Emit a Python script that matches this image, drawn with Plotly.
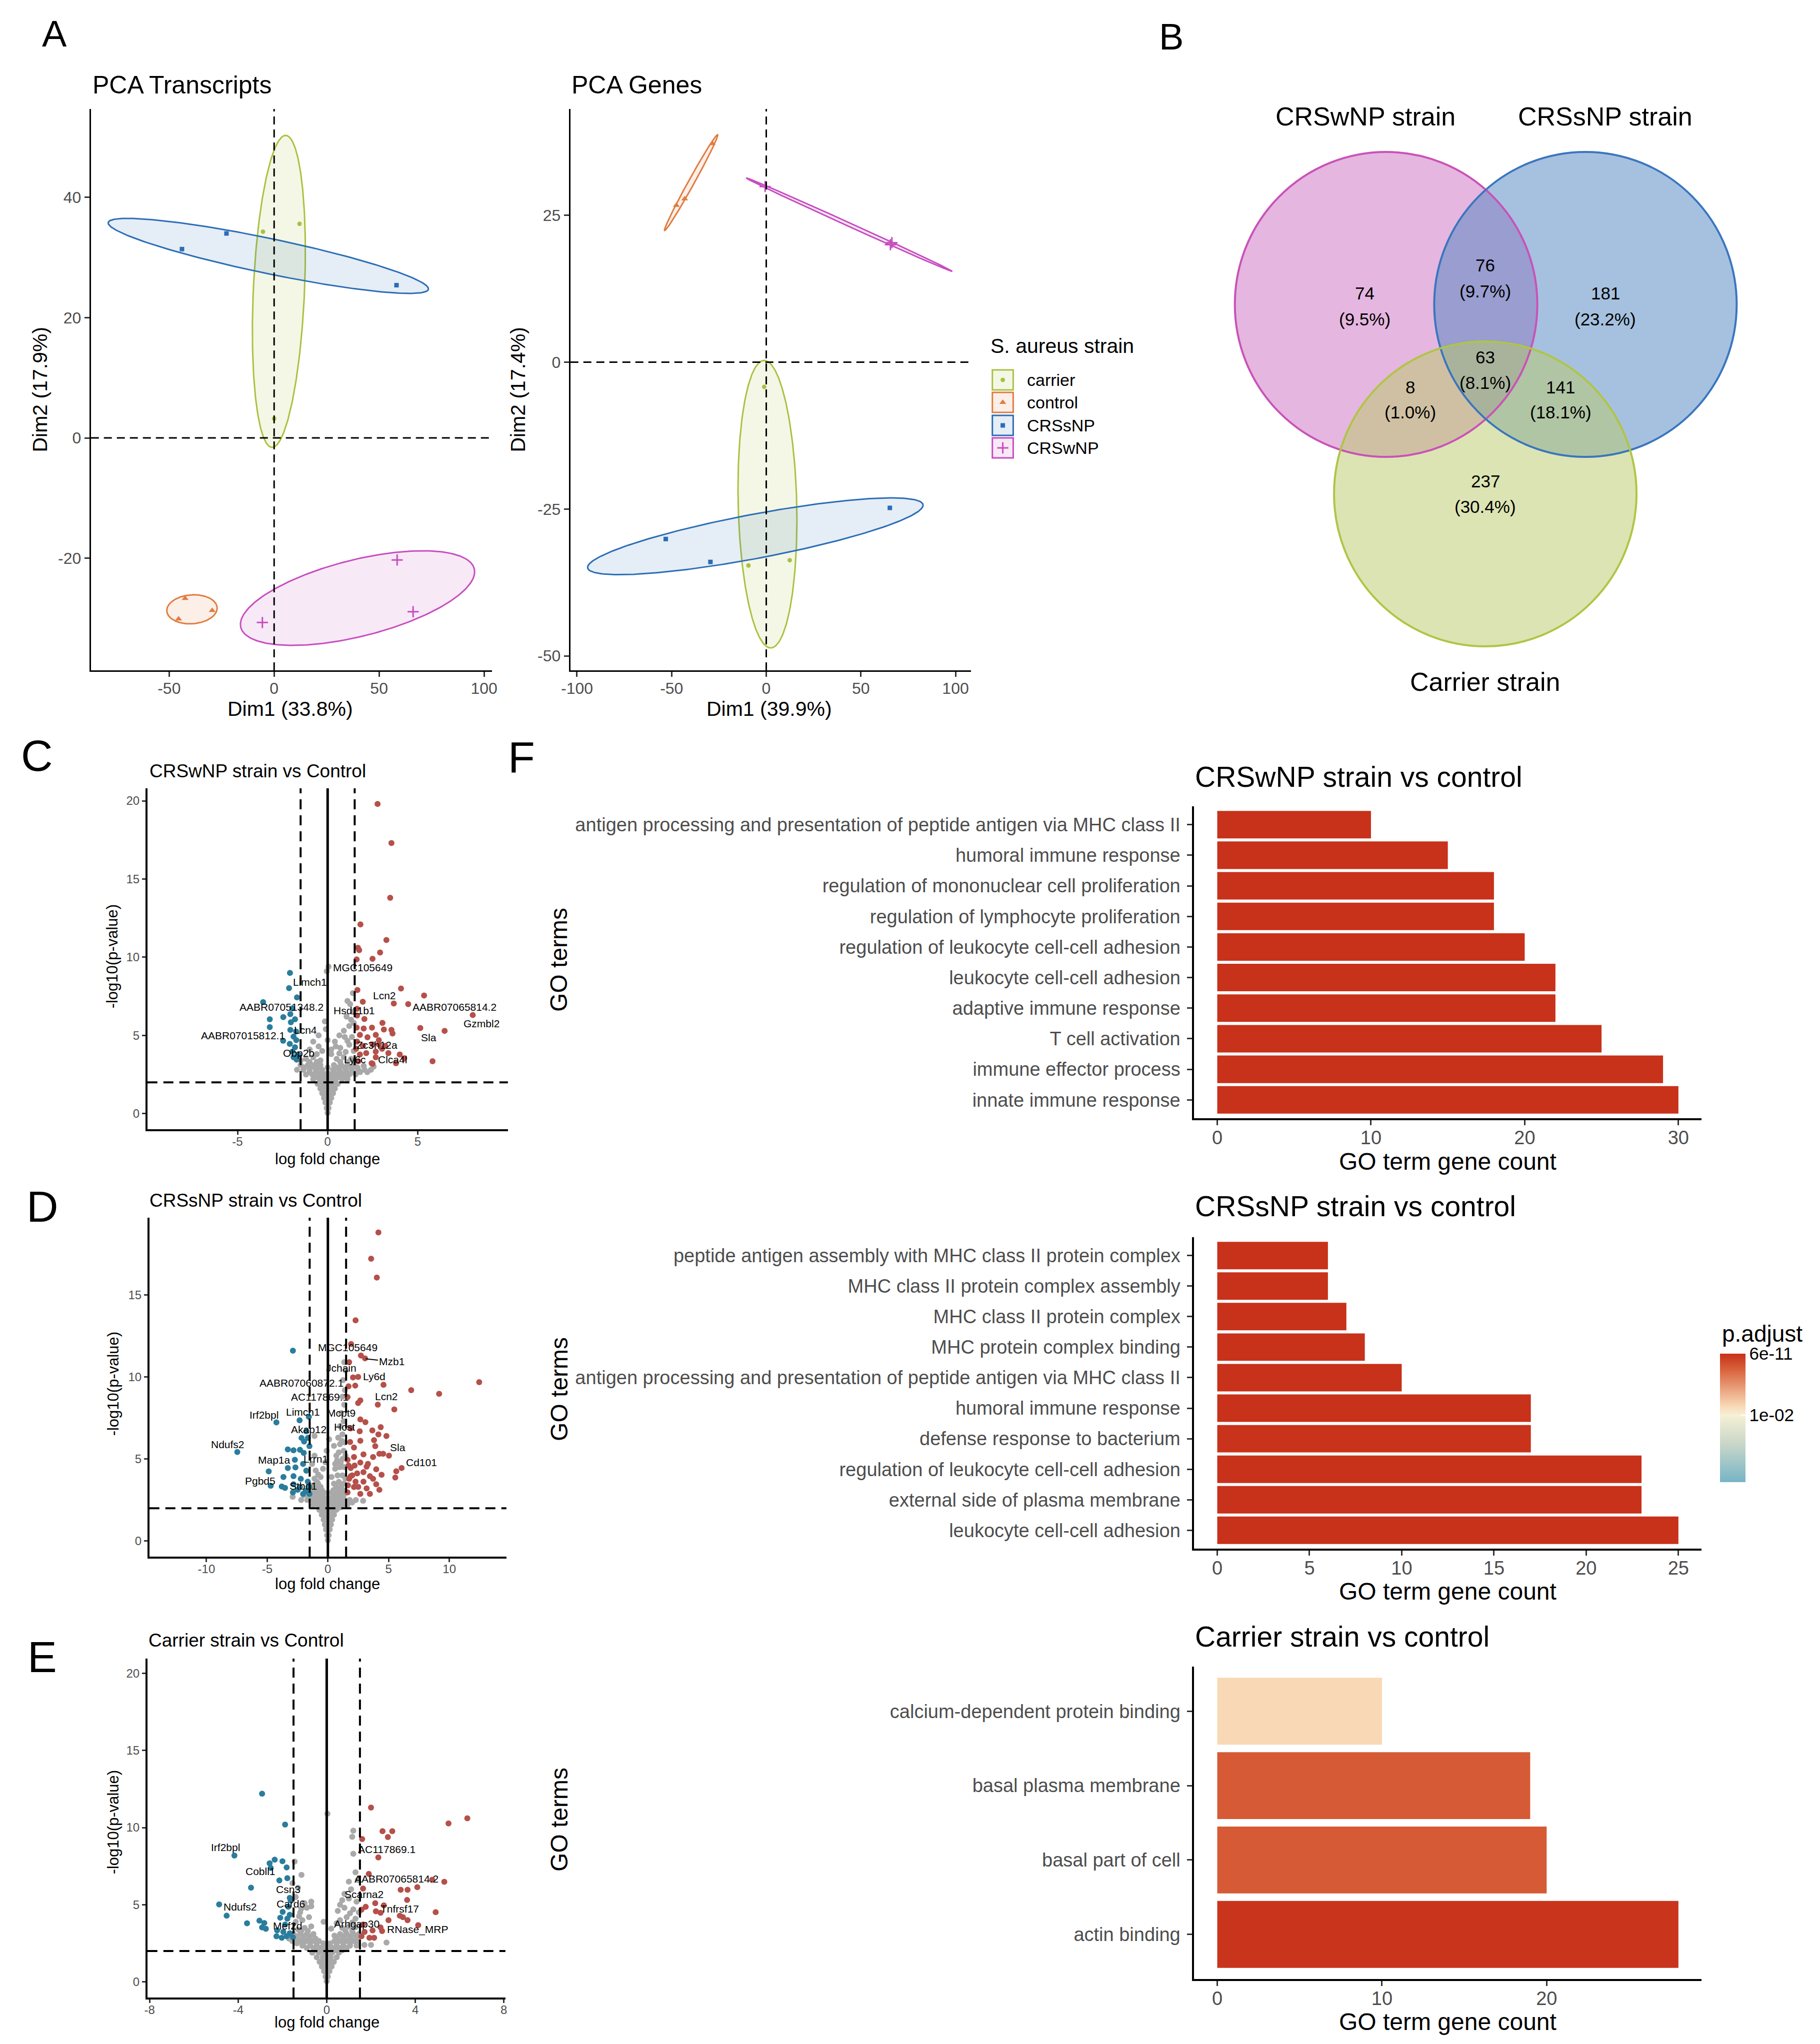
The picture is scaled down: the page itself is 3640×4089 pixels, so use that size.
import numpy as np
import plotly.graph_objects as go

W, H = 3640, 4089
FONT = "Liberation Sans, Arial, Helvetica, sans-serif"
TXT = "#4D4D4D"


def X(p):
    return p / W


def Y(p):
    return 1 - p / H


# ---------------- PCA data (A) ----------------
GROUPS = ["carrier", "control", "CRSsNP", "CRSwNP"]
GROUP_COLORS = ["#A8C23F", "#E17C41", "#2B6DB7", "#C74DBF"]
GROUP_FILLS = ["rgba(168,194,63,0.13)", "rgba(225,124,65,0.12)", "rgba(43,109,183,0.12)", "rgba(199,77,191,0.12)"]
GROUP_SYMBOLS = ["circle", "triangle-up", "square", "cross-thin"]
GROUP_SIZES = [9, 12, 9, 16]

TX_DIM1 = [[-5.3, 12.1, 0.0], [-42.4, -45.5, -29.5], [-43.9, -22.7, 58.3], [58.6, 66.2, -5.6]]
TX_DIM2 = [[34.3, 35.6, 3.2], [-26.7, -30.1, -28.7], [31.4, 34.0, 25.4], [-20.3, -28.9, -30.7]]
GN_DIM1 = [[-1.1, -9.4, 12.4], [-28.5, -43.1, -47.5], [-53.1, -29.5, 65.3], [-0.6, 65.6, 66.4]]
GN_DIM2 = [[-4.2, -34.6, -33.7], [37.2, 27.8, 26.7], [-30.1, -34.0, -24.8], [29.9, 20.0, 20.35]]

# ---------------- Venn data (B) ----------------
VENN_SETS = ["CRSwNP strain", "CRSsNP strain", "Carrier strain"]
VENN_REGIONS = ["CRSwNP only", "CRSwNP+CRSsNP", "CRSsNP only", "all", "CRSwNP+Carrier", "CRSsNP+Carrier", "Carrier only"]
VENN_COUNTS = [74, 76, 181, 63, 8, 141, 237]

# ---------------- Volcano data (C, D, E) ----------------
C_RED = [(2.77, 19.8), (3.54, 17.3), (3.47, 13.8), (1.82, 12.1), (3.26, 11.1), (1.68, 10.6), (1.75, 10.45),
         (2.91, 10.3), (2.49, 9.9), (1.61, 9.86), (4.07, 8.0), (1.65, 7.9), (5.35, 7.55), (1.95, 7.15),
         (3.67, 7.04), (4.47, 7.0), (8.05, 6.3), (1.63, 6.7), (1.63, 6.27), (2.04, 6.05), (1.61, 5.5),
         (2.46, 5.5), (3.04, 5.8), (2.0, 5.44), (5.14, 5.47), (3.54, 5.35), (3.12, 5.38), (6.49, 5.29),
         (2.67, 5.03), (3.6, 5.12), (1.79, 5.03), (2.21, 4.88), (1.63, 4.6), (2.84, 4.7), (2.49, 4.42),
         (1.96, 4.33), (3.02, 4.15), (2.67, 3.96), (2.14, 3.87), (1.79, 3.78), (4.0, 3.78), (4.25, 3.54),
         (3.79, 3.22), (5.82, 3.35), (2.49, 3.19), (1.7, 3.35), (2.67, 3.6), (3.19, 4.33), (3.37, 3.87),
         (1.58, 4.15), (2.84, 4.42), (2.44, 3.22)]
C_BLUE = [(-2.09, 9.0), (-2.14, 8.02), (-1.70, 7.43), (-3.58, 7.13), (-1.96, 6.73), (-2.07, 6.36),
          (-2.46, 6.17), (-3.21, 6.03), (-1.81, 6.03), (-2.04, 5.84), (-3.21, 5.53), (-2.07, 5.35),
          (-1.75, 5.25), (-1.89, 4.92), (-1.74, 4.70), (-2.47, 4.66), (-2.1, 4.46), (-1.81, 4.24),
          (-1.63, 3.78), (-1.89, 3.6), (-1.72, 3.45), (-1.95, 3.96)]
C_GRAY = [(0.0, 0.05), (-0.05, 0.35), (0.05, 0.35), (-0.12, 0.7), (0.0, 0.7), (0.12, 0.7),
          (-0.2, 1.0), (0.0, 1.0), (0.2, 1.0), (-0.3, 1.3), (-0.1, 1.3), (0.1, 1.3), (0.3, 1.3),
          (-0.4, 1.6), (-0.15, 1.6), (0.15, 1.6), (0.4, 1.6),
          (-0.55, 1.9), (-0.25, 1.9), (0.0, 1.9), (0.25, 1.9), (0.55, 1.9),
          (-0.8, 2.2), (-0.45, 2.2), (-0.15, 2.2), (0.15, 2.2), (0.45, 2.2), (0.8, 2.2), (1.1, 2.2),
          (-1.2, 2.5), (-0.85, 2.5), (-0.5, 2.5), (-0.2, 2.5), (0.2, 2.5), (0.5, 2.5), (0.85, 2.5), (1.2, 2.5), (1.55, 2.5),
          (-1.7, 2.8), (-1.35, 2.8), (-1.0, 2.8), (-0.65, 2.8), (-0.3, 2.8), (0.3, 2.8), (0.65, 2.8), (1.0, 2.8),
          (1.35, 2.8), (1.7, 2.8), (2.05, 2.8), (2.4, 2.8),
          (-1.5, 3.1), (-1.1, 3.1), (-0.75, 3.1), (-0.4, 3.1), (0.35, 3.1), (0.75, 3.1), (1.1, 3.1), (1.45, 3.1),
          (2.0, 3.05), (2.55, 3.0),
          (-1.2, 3.5), (-0.8, 3.6), (-0.4, 3.4), (0.2, 3.8), (0.5, 3.5), (0.9, 3.6), (1.3, 3.5), (1.45, 4.0),
          (-1.0, 4.1), (-0.3, 4.0), (0.2, 4.1), (0.7, 4.2), (1.2, 4.4), (-0.8, 4.6), (0.0, 4.7), (0.4, 4.6),
          (0.95, 4.9), (1.35, 4.9), (-0.1, 5.4), (0.9, 5.3), (1.2, 5.6), (1.45, 5.8), (-0.15, 5.9), (1.05, 6.2),
          (1.3, 6.0), (1.4, 6.5), (1.25, 7.0), (1.1, 7.2), (1.4, 7.7), (0.05, 9.4), (-0.05, 9.1),
          (-1.5, 3.4), (-1.6, 3.7),
          (-0.05, 1.45), (0.05, 1.15), (-0.1, 1.75), (0.1, 1.75), (-0.35, 2.05), (0.35, 2.05), (-0.65, 2.35),
          (-0.3, 2.35), (0.0, 2.35), (0.3, 2.35), (0.65, 2.35), (0.95, 2.35), (-1.0, 2.65), (-0.65, 2.65),
          (-0.35, 2.65), (0.0, 2.6), (0.35, 2.65), (0.7, 2.65), (1.05, 2.65), (1.4, 2.65), (1.8, 2.65),
          (2.2, 2.65), (-1.3, 2.95), (-0.95, 2.95), (-0.55, 2.95), (0.0, 2.95), (0.55, 2.95), (0.95, 2.95),
          (1.3, 2.95), (1.65, 2.95), (-1.0, 3.3), (-0.6, 3.3), (0.7, 3.3), (1.1, 3.3), (-0.6, 3.8), (0.65, 3.85),
          (1.0, 3.95), (-0.5, 4.3), (0.45, 4.3), (1.1, 4.65), (0.65, 5.0), (-0.5, 5.0)]
C_LABELS = [("MGC105649", 1.96, 9.35), ("Limch1", -0.98, 8.42), ("Lcn2", 3.16, 7.56),
            ("AABR07065814.2", 7.05, 6.82), ("AABR07051348.2", -2.56, 6.82), ("Hsd11b1", 1.49, 6.58),
            ("Gzmbl2", 8.54, 5.77), ("Lcn4", -1.23, 5.35), ("AABR07015812.1", -4.70, 4.98),
            ("Sla", 5.61, 4.88), ("Zc3h12a", 2.75, 4.39), ("Obp2b", -1.6, 3.87), ("Ly6c", 1.53, 3.45),
            ("Clca4l", 3.6, 3.45)]

D_RED = [(4.16, 18.8), (3.56, 17.2), (4.03, 16.05), (2.28, 13.45), (1.91, 12.0), (2.72, 11.3), (3.06, 11.13),
         (1.75, 10.9), (2.07, 9.97), (2.49, 10.0), (12.46, 9.68), (1.70, 9.43), (2.25, 9.47), (4.58, 9.52),
         (6.86, 9.19), (9.16, 8.97), (1.62, 8.77), (2.67, 8.57), (2.49, 8.41), (4.11, 8.31), (5.47, 8.02),
         (2.67, 7.41), (3.09, 7.24), (1.88, 6.86), (4.35, 6.94), (3.66, 6.74), (2.62, 6.69), (4.16, 6.5),
         (4.82, 6.4), (2.67, 6.11), (3.80, 6.15), (1.83, 6.03), (2.15, 5.70), (3.9, 5.78), (2.93, 5.28),
         (4.24, 5.32), (4.55, 5.32), (5.03, 5.2), (3.72, 5.12), (2.15, 5.12), (6.07, 4.45), (5.63, 4.25),
         (5.55, 3.87), (1.62, 4.95), (2.67, 4.78), (3.19, 4.53), (1.88, 4.45), (3.98, 4.37), (2.41, 4.12),
         (3.46, 3.95), (4.42, 4.04), (1.75, 3.79), (2.93, 3.62), (3.98, 3.46), (2.15, 3.29), (3.19, 3.21),
         (1.62, 2.96), (2.67, 2.87), (3.46, 2.87), (2.28, 3.62), (3.72, 3.79), (1.88, 3.95), (2.93, 4.2),
         (4.24, 3.12), (1.7, 4.6), (2.0, 4.0), (2.5, 3.3), (3.3, 4.7), (1.65, 3.4), (2.2, 4.6)]
D_BLUE = [(-2.88, 11.6), (-4.24, 7.23), (-2.33, 7.36), (-1.57, 7.57), (-1.78, 6.69), (-2.17, 6.28),
          (-1.65, 6.28), (-1.96, 6.06), (-7.46, 5.42), (-3.30, 5.58), (-2.83, 5.53), (-2.30, 5.56),
          (-1.52, 5.78), (-1.99, 5.37), (-2.72, 4.95), (-3.30, 4.45), (-2.67, 4.49), (-2.04, 4.7),
          (-1.78, 4.29), (-4.87, 4.24), (-3.66, 3.9), (-2.83, 3.95), (-2.23, 3.79), (-1.65, 3.62),
          (-4.71, 3.37), (-3.80, 3.32), (-3.53, 3.24), (-2.83, 3.46), (-2.30, 3.29), (-1.83, 3.04),
          (-1.52, 2.87), (-2.88, 2.96), (-2.04, 2.87), (-2.49, 3.12), (-1.52, 3.29)]
D_GRAY = [(0.0, 0.05), (-0.06, 0.35), (0.06, 0.35), (-0.15, 0.7), (0.0, 0.7), (0.15, 0.7),
          (-0.25, 1.0), (0.0, 1.0), (0.25, 1.0), (-0.35, 1.3), (-0.1, 1.3), (0.1, 1.3), (0.35, 1.3),
          (-0.5, 1.6), (-0.2, 1.6), (0.2, 1.6), (0.5, 1.6),
          (-0.7, 1.9), (-0.35, 1.9), (0.0, 1.9), (0.35, 1.9), (0.7, 1.9),
          (-1.2, 2.2), (-0.8, 2.2), (-0.4, 2.2), (0.0, 2.2), (0.4, 2.2), (0.8, 2.2), (1.2, 2.2), (1.6, 2.2),
          (-2.2, 2.5), (-1.7, 2.5), (-1.3, 2.5), (-0.9, 2.5), (-0.5, 2.5), (-0.15, 2.5), (0.2, 2.5), (0.6, 2.5),
          (1.0, 2.5), (1.4, 2.5), (1.8, 2.5), (2.3, 2.5), (2.9, 2.45),
          (-2.9, 2.7), (-2.0, 2.8), (-1.4, 2.8), (-1.0, 2.8), (-0.6, 2.8), (0.5, 2.8), (0.9, 2.8), (1.3, 2.8),
          (-1.3, 3.1), (-0.9, 3.1), (-0.5, 3.1), (0.45, 3.1), (0.85, 3.1), (1.25, 3.1),
          (-1.2, 3.4), (-0.8, 3.5), (0.5, 3.5), (0.9, 3.6), (1.3, 3.5), (-1.1, 3.8), (-0.6, 3.9), (0.3, 3.9),
          (0.8, 4.0), (1.2, 4.0), (-1.0, 4.3), (-0.4, 4.4), (0.6, 4.4), (1.0, 4.5), (1.35, 4.5), (-1.3, 4.7),
          (-0.2, 4.8), (0.75, 4.9), (1.2, 5.0), (0.9, 5.4), (1.3, 5.5), (-1.1, 5.2), (0.5, 5.8), (1.0, 5.9),
          (1.4, 6.0), (0.85, 6.3), (1.2, 6.5), (-1.1, 6.4), (1.0, 7.0), (1.3, 7.3), (1.1, 7.8), (1.35, 8.3),
          (1.2, 8.8), (1.4, 9.2), (1.25, 9.8), (1.45, 10.4), (1.35, 10.9), (0.1, 6.2), (-0.1, 5.5),
          (-0.05, 1.45), (0.05, 1.15), (-0.1, 1.75), (0.1, 1.75), (-0.5, 2.05), (-0.2, 2.05), (0.2, 2.05),
          (0.5, 2.05), (1.0, 2.05), (-1.0, 2.35), (-0.6, 2.35), (-0.2, 2.35), (0.2, 2.35), (0.6, 2.35),
          (1.0, 2.35), (1.4, 2.35), (2.0, 2.35), (-1.6, 2.65), (-1.2, 2.65), (-0.8, 2.65), (-0.4, 2.65),
          (0.0, 2.65), (0.4, 2.65), (0.8, 2.65), (1.2, 2.65), (-1.1, 2.95), (-0.7, 2.95), (-0.3, 2.95),
          (0.3, 2.95), (0.7, 2.95), (1.1, 2.95), (1.4, 2.95), (-1.0, 3.3), (-0.6, 3.3), (0.7, 3.3), (1.1, 3.3),
          (1.45, 3.8), (-0.8, 4.05), (0.6, 4.7), (1.05, 4.75), (1.45, 5.2), (0.7, 5.2), (1.15, 6.1), (-0.9, 3.6)]
D_LABELS = [("MGC105649", 1.62, 11.81), ("Jchain", 1.1, 10.55), ("Ly6d", 3.8, 10.02),
            ("AABR07060872.1", -2.17, 9.63), ("AC117869.1", -0.68, 8.77), ("Lcn2", 4.82, 8.8),
            ("Irf2bpl", -5.26, 7.69), ("Limch1", -2.04, 7.86), ("Mcpt9", 1.1, 7.82), ("Akap12", -1.57, 6.81),
            ("Hcst", 1.36, 6.94), ("Ndufs2", -8.25, 5.9), ("Sla", 5.76, 5.7), ("Map1a", -4.4, 4.95),
            ("Lrrn1", -0.99, 5.0), ("Cd101", 7.72, 4.78), ("Pgbd5", -5.58, 3.65), ("Stbd1", -2.04, 3.37)]
D_ARROW_LABELS = [("Mzb1", 5.24, 10.93, 3.1, 11.1)]

E_RED = [(2.0, 11.3), (6.35, 10.6), (5.5, 10.27), (2.52, 9.77), (2.96, 9.77), (2.76, 9.39), (1.6, 9.26),
         (2.33, 8.07), (1.9, 7.0), (4.76, 6.62), (5.31, 6.49), (1.64, 6.05), (3.34, 5.97), (3.65, 5.97),
         (4.09, 6.14), (2.19, 5.1), (3.63, 5.31), (1.76, 4.87), (2.58, 4.96), (1.57, 4.68), (2.22, 4.58),
         (2.43, 4.48), (3.3, 4.29), (3.44, 4.2), (3.65, 4.0), (4.92, 4.52), (2.79, 4.0), (2.43, 3.53),
         (2.07, 3.34), (1.71, 3.24), (2.5, 3.3), (1.57, 2.96), (1.93, 2.86), (1.64, 3.72), (4.13, 3.68),
         (2.14, 2.86)]
E_BLUE = [(-2.92, 12.2), (-1.88, 10.2), (-4.17, 8.19), (-2.35, 7.92), (-2.0, 7.82), (-2.58, 7.69),
          (-1.81, 7.42), (-2.53, 7.39), (-1.78, 6.72), (-2.14, 6.58), (-3.42, 6.11), (-1.67, 5.44),
          (-4.86, 5.02), (-1.63, 5.29), (-1.74, 4.87), (-1.99, 4.54), (-1.67, 4.35), (-4.52, 4.29),
          (-2.1, 4.16), (-1.78, 4.1), (-3.6, 3.8), (-3.04, 3.97), (-2.82, 3.82), (-2.92, 3.53),
          (-2.75, 3.44), (-2.24, 3.34), (-1.96, 3.24), (-1.67, 3.15), (-2.27, 2.96), (-2.03, 2.86),
          (-1.81, 2.96), (-1.53, 2.9), (-1.88, 3.72)]
E_GRAY = [(0.0, 0.05), (-0.05, 0.35), (0.05, 0.35), (-0.12, 0.7), (0.0, 0.7), (0.12, 0.7),
          (-0.22, 1.0), (0.0, 1.0), (0.22, 1.0), (-0.32, 1.3), (-0.1, 1.3), (0.1, 1.3), (0.32, 1.3),
          (-0.45, 1.6), (-0.18, 1.6), (0.18, 1.6), (0.45, 1.6),
          (-0.65, 1.9), (-0.35, 1.9), (-0.05, 1.9), (0.25, 1.9), (0.55, 1.9),
          (-0.9, 2.2), (-0.6, 2.2), (-0.3, 2.2), (0.0, 2.2), (0.3, 2.2), (0.6, 2.2), (0.9, 2.2),
          (-1.35, 2.5), (-1.05, 2.5), (-0.75, 2.5), (-0.45, 2.5), (-0.15, 2.5), (0.15, 2.5), (0.45, 2.5),
          (0.75, 2.5), (1.05, 2.5), (1.35, 2.5), (1.7, 2.4), (2.0, 2.4), (2.7, 2.55),
          (-1.7, 2.8), (-1.4, 2.8), (-1.1, 2.8), (-0.8, 2.8), (-0.5, 2.8), (0.5, 2.8), (0.8, 2.8), (1.1, 2.8), (1.4, 2.8),
          (-1.5, 3.1), (-1.2, 3.1), (-0.9, 3.1), (-0.6, 3.1), (0.35, 3.0), (0.6, 3.1), (0.9, 3.1), (1.2, 3.1), (1.45, 3.1),
          (-1.3, 3.4), (-1.0, 3.5), (-0.7, 3.6), (0.2, 3.45), (0.7, 3.5), (1.0, 3.6), (1.3, 3.55), (-1.4, 3.9),
          (-1.1, 4.0), (-0.8, 4.2), (-0.14, 3.9), (0.6, 4.0), (0.9, 4.2), (1.3, 4.1), (-1.2, 4.5), (-0.9, 4.8),
          (-0.7, 4.9), (0.5, 4.6), (0.8, 4.8), (1.2, 4.7), (1.45, 4.5), (-1.0, 5.1), (-1.4, 5.5), (-0.7, 5.2),
          (0.7, 5.3), (1.0, 5.4), (1.35, 5.2), (0.8, 5.7), (1.1, 6.0), (1.0, 6.5), (1.4, 6.6), (1.3, 7.1),
          (-1.14, 6.93), (-1.45, 7.8), (-1.3, 6.1), (-1.55, 6.4), (1.2, 8.3), (1.15, 9.4), (1.2, 9.8),
          (0.03, 10.9),
          (-0.05, 1.45), (0.05, 1.15), (-0.1, 1.75), (0.1, 1.75), (-0.5, 2.05), (-0.2, 2.05), (0.1, 2.05),
          (0.4, 2.05), (0.7, 2.05), (-1.1, 2.35), (-0.75, 2.35), (-0.45, 2.35), (-0.15, 2.35), (0.15, 2.35),
          (0.45, 2.35), (0.75, 2.35), (1.05, 2.35), (1.35, 2.35), (-1.55, 2.65), (-1.25, 2.65), (-0.95, 2.65),
          (-0.65, 2.65), (-0.35, 2.65), (0.35, 2.65), (0.65, 2.65), (0.95, 2.65), (1.25, 2.65), (-1.35, 2.95),
          (-1.05, 2.95), (-0.75, 2.95), (0.75, 2.95), (1.05, 2.95), (1.35, 2.95), (-1.15, 3.3), (-0.85, 3.3),
          (0.85, 3.3), (1.15, 3.3), (0.45, 3.8), (1.15, 3.85), (-1.25, 4.25), (1.05, 4.45), (0.6, 5.0),
          (-1.15, 4.75)]
E_LABELS = [("Irf2bpl", -4.58, 8.72), ("AC117869.1", 2.72, 8.59), ("Cobll1", -2.99, 7.16),
            ("AABR07065814.2", 3.15, 6.68), ("Csn3", -1.74, 6.01), ("Scarna2", 1.68, 5.69),
            ("Card6", -1.63, 5.06), ("Ndufs2", -3.9, 4.87), ("Tnfrsf17", 3.29, 4.73), ("Mef2d", -1.77, 3.63),
            ("Arhgap30", 1.35, 3.78), ("RNase_MRP", 4.12, 3.4)]

LFC_CUT = 1.5
P_CUT = 2.0

# ---------------- GO enrichment data (F) ----------------
F1_TERMS = ["antigen processing and presentation of peptide antigen via MHC class II", "humoral immune response",
            "regulation of mononuclear cell proliferation", "regulation of lymphocyte proliferation",
            "regulation of leukocyte cell-cell adhesion", "leukocyte cell-cell adhesion",
            "adaptive immune response", "T cell activation", "immune effector process", "innate immune response"]
F1_COUNTS = [10, 15, 18, 18, 20, 22, 22, 25, 29, 30]
F1_PADJ = [1e-6, 1e-7, 1e-7, 1e-7, 1e-8, 1e-8, 1e-8, 1e-9, 1e-10, 6e-11]

F2_TERMS = ["peptide antigen assembly with MHC class II protein complex", "MHC class II protein complex assembly",
            "MHC class II protein complex", "MHC protein complex binding",
            "antigen processing and presentation of peptide antigen via MHC class II", "humoral immune response",
            "defense response to bacterium", "regulation of leukocyte cell-cell adhesion",
            "external side of plasma membrane", "leukocyte cell-cell adhesion"]
F2_COUNTS = [6, 6, 7, 8, 10, 17, 17, 23, 23, 25]
F2_PADJ = [1e-6, 1e-6, 1e-6, 1e-6, 1e-7, 1e-7, 1e-4, 1e-8, 1e-8, 1e-9]

F3_TERMS = ["calcium-dependent protein binding", "basal plasma membrane", "basal part of cell", "actin binding"]
F3_COUNTS = [10, 19, 20, 28]
F3_PADJ = [0.0085, 0.0022, 0.0022, 0.0002]

PADJ_MIN, PADJ_MAX = 6e-11, 0.0209

# ---------------- helpers ----------------

def ellipse(xs, ys, k=np.sqrt(2), n=240):
    pts = np.column_stack([xs, ys])
    mu = pts.mean(axis=0)
    cov = np.cov(pts.T)
    vals, vecs = np.linalg.eigh(cov)
    vals = np.clip(vals, 1e-9, None)
    t = np.linspace(0, 2 * np.pi, n)
    circ = np.vstack([np.cos(t), np.sin(t)])
    e = (vecs @ np.diag(np.sqrt(vals) * k) @ circ).T + mu
    return e[:, 0], e[:, 1]


fig = go.Figure()
shapes = []
annotations = []


def ann(text, x, y, size, color="black", xanchor="center", yanchor="middle", angle=0, xref="paper", yref="paper"):
    annotations.append(dict(text=text, x=x, y=y, xref=xref, yref=yref, showarrow=False,
                            font=dict(size=size, color=color, family=FONT), xanchor=xanchor,
                            yanchor=yanchor, textangle=angle))


def axis_name(i, kind):
    return kind if i == 1 else f"{kind}{i}"


# ---------------- Panel A: PCA ----------------
for ai, (d1, d2) in enumerate([(TX_DIM1, TX_DIM2), (GN_DIM1, GN_DIM2)], start=1):
    xa, ya = axis_name(ai, "x"), axis_name(ai, "y")
    for gi, g in enumerate(GROUPS):
        ex, ey = ellipse(d1[gi], d2[gi])
        fig.add_trace(go.Scatter(x=ex, y=ey, mode="lines", fill="toself", fillcolor=GROUP_FILLS[gi],
                                 line=dict(color=GROUP_COLORS[gi], width=3), xaxis=xa, yaxis=ya,
                                 showlegend=False, hoverinfo="skip"))
    for gi, g in enumerate(GROUPS):
        fig.add_trace(go.Scatter(x=d1[gi], y=d2[gi], mode="markers", name=g,
                                 marker=dict(symbol=GROUP_SYMBOLS[gi], size=GROUP_SIZES[gi], color=GROUP_COLORS[gi],
                                             line=dict(color=GROUP_COLORS[gi], width=3 if GROUP_SYMBOLS[gi] == "cross-thin" else 0)),
                                 xaxis=xa, yaxis=ya, showlegend=False))
    shapes.append(dict(type="line", xref=xa, yref=f"{ya} domain", x0=0, x1=0, y0=0, y1=1,
                       line=dict(color="black", width=3, dash="16px,10px")))
    shapes.append(dict(type="line", xref=f"{xa} domain", yref=ya, x0=0, x1=1, y0=0, y1=0,
                       line=dict(color="black", width=3, dash="16px,10px")))

ann("PCA Transcripts", X(157), Y(162), 50, xanchor="left")
ann("PCA Genes", X(1123), Y(162), 50, xanchor="left")
ann("Dim1 (33.8%)", X(558), Y(1410), 41)
ann("Dim2 (17.9%)", X(53), Y(771), 41, angle=-90)
ann("Dim1 (39.9%)", X(1524), Y(1410), 41)
ann("Dim2 (17.4%)", X(1017), Y(771), 41, angle=-90)

# legend (manual, ggplot style)
ann("S. aureus strain", X(1968), Y(684), 41, xanchor="left")
LEG_Y = [752, 797, 843, 888]
for gi, g in enumerate(GROUPS):
    cy = LEG_Y[gi]
    shapes.append(dict(type="rect", xref="paper", yref="paper", x0=X(1974), x1=X(2016), y0=Y(cy + 20), y1=Y(cy - 20),
                       fillcolor=GROUP_FILLS[gi], line=dict(color=GROUP_COLORS[gi], width=3), layer="below"))
    fig.add_trace(go.Scatter(x=[1995], y=[cy], mode="markers", xaxis="x9", yaxis="y9", showlegend=False,
                             marker=dict(symbol=GROUP_SYMBOLS[gi], size=GROUP_SIZES[gi], color=GROUP_COLORS[gi],
                                         line=dict(color=GROUP_COLORS[gi], width=3 if GROUP_SYMBOLS[gi] == "cross-thin" else 0)),
                             hoverinfo="skip"))
    ann(g, X(2042), Y(cy), 34, xanchor="left")

# ---------------- Panel B: Venn ----------------
VENN_CENTERS = [(2768, 601), (3170, 601), (2968, 980)]
VENN_R = 305
VENN_FILL = ["#CB6DBF", "#4D83BF", "#B9C967"]
VENN_LINE = ["#C952B8", "#3A76BE", "#AFC544"]
for (cx, cy), fc in zip(VENN_CENTERS, VENN_FILL):
    shapes.append(dict(type="circle", xref="paper", yref="paper", x0=X(cx - VENN_R), x1=X(cx + VENN_R),
                       y0=Y(cy + VENN_R), y1=Y(cy - VENN_R), fillcolor=fc, opacity=0.5, line=dict(width=0)))
for (cx, cy), lc in zip(VENN_CENTERS, VENN_LINE):
    shapes.append(dict(type="circle", xref="paper", yref="paper", x0=X(cx - VENN_R), x1=X(cx + VENN_R),
                       y0=Y(cy + VENN_R), y1=Y(cy - VENN_R), line=dict(color=lc, width=4)))
VENN_LABEL_POS = [(2726, 225), (3210, 225), (2968, 1356)]
for s, (lx, ly) in zip(VENN_SETS, VENN_LABEL_POS):
    ann(s, X(lx), Y(ly), 52)
VENN_REGION_POS = [(2725, 604), (2968, 548), (3210, 604), (2968, 731), (2817, 791), (3120, 791), (2968, 979)]
venn_total = sum(VENN_COUNTS)
for c, (rx, ry) in zip(VENN_COUNTS, VENN_REGION_POS):
    ann(str(c), X(rx), Y(ry - 25), 35)
    ann(f"({100 * c / venn_total:.1f}%)", X(rx), Y(ry + 26), 35)

# ---------------- Panels C, D, E: Volcano ----------------
VOLCANO = [
    (3, C_GRAY, C_BLUE, C_RED, C_LABELS, []),
    (4, D_GRAY, D_BLUE, D_RED, D_LABELS, D_ARROW_LABELS),
    (5, E_GRAY, E_BLUE, E_RED, E_LABELS, []),
]
for ai, gray, blue, red, labels, alabels in VOLCANO:
    xa, ya = axis_name(ai, "x"), axis_name(ai, "y")
    for pts, col in [(gray, "#A9A9A9"), (blue, "#2A7D9C"), (red, "#B5504A")]:
        fig.add_trace(go.Scatter(x=[p[0] for p in pts], y=[p[1] for p in pts], mode="markers",
                                 marker=dict(size=12, color=col), xaxis=xa, yaxis=ya, showlegend=False))
    for name, lx, ly in labels:
        ann(name, lx, ly, 21, xref=xa, yref=ya)
    for name, lx, ly, px_, py_ in alabels:
        annotations.append(dict(text=name, x=px_, y=py_, ax=lx, ay=ly, xref=xa, yref=ya, axref=xa, ayref=ya,
                                showarrow=True, arrowhead=0, arrowwidth=2, arrowcolor="black",
                                font=dict(size=21, color="black", family=FONT)))
    for xv in (-LFC_CUT, LFC_CUT):
        shapes.append(dict(type="line", xref=xa, yref=f"{ya} domain", x0=xv, x1=xv, y0=0, y1=1,
                           line=dict(color="black", width=4, dash="20px,12px")))
    shapes.append(dict(type="line", xref=xa, yref=f"{ya} domain", x0=0, x1=0, y0=0, y1=1,
                       line=dict(color="black", width=5)))
    shapes.append(dict(type="line", xref=f"{xa} domain", yref=ya, x0=0, x1=1, y0=P_CUT, y1=P_CUT,
                       line=dict(color="black", width=4, dash="20px,12px")))

ann("CRSwNP strain vs Control", X(272), Y(1534), 37, xanchor="left")
ann("CRSsNP strain vs Control", X(272), Y(2393), 37, xanchor="left")
ann("Carrier strain vs Control", X(270), Y(3273), 37, xanchor="left")
for (xx, yy) in [(633, 2310), (633, 3160), (632, 4037)]:
    ann("log fold change", X(xx), Y(yy), 31)
for (xx, yy) in [(199, 1905), (201, 2760), (201, 3637)]:
    ann("-log10(p-value)", X(xx), Y(yy), 31, angle=-90)

# ---------------- Panel F: GO bars ----------------
BARS = [(6, F1_TERMS, F1_COUNTS, F1_PADJ, "CRSwNP strain vs control", 1546, 2315, 1912),
        (7, F2_TERMS, F2_COUNTS, F2_PADJ, "CRSsNP strain vs control", 2405, 3175, 2771),
        (8, F3_TERMS, F3_COUNTS, F3_PADJ, "Carrier strain vs control", 3266, 4036, 3632)]
for ai, terms, counts, padj, title, ty, xty, yty in BARS:
    xa, ya = axis_name(ai, "x"), axis_name(ai, "y")
    fig.add_trace(go.Bar(x=counts, y=terms, orientation="h", width=0.9,
                         marker=dict(color=[-p for p in padj], coloraxis="coloraxis", line=dict(width=0)),
                         xaxis=xa, yaxis=ya, showlegend=False))
    ann(title, X(2381), Y(ty), 57, xanchor="left")
    ann("GO term gene count", X(2892), Y(xty), 48)
    ann("GO terms", X(1100), Y(yty), 48, angle=-90)

ann("p.adjust", X(3443), Y(2660), 46, xanchor="left")

# panel letters
ann("A", X(83), Y(60), 74)
ann("B", X(2335), Y(66), 74)
ann("C", X(47), Y(1503), 88)
ann("D", X(58), Y(2405), 88)
ann("E", X(58), Y(3306), 88)
ann("F", X(1024), Y(1506), 88)

# ---------------- axes ----------------

def xdom(a, b):
    return [X(a), X(b)]


def ydom(top, bottom):
    return [Y(bottom), Y(top)]


def ax_style(lw, tl, fs, **kw):
    d = dict(showline=True, linecolor="black", linewidth=lw, ticks="outside", ticklen=tl, tickwidth=3,
             tickcolor="#333333", tickfont=dict(size=fs, color=TXT, family=FONT), showgrid=False,
             zeroline=False, fixedrange=True)
    if "tickvals" in kw:
        d["ticktext"] = [f"{v:g}" for v in kw["tickvals"]]  # ggplot-style hyphen minus
    d.update(kw)
    return d


layout_axes = {}
# PCA
layout_axes["xaxis"] = ax_style(3, 10, 32, domain=xdom(156, 965), anchor="y", range=[-87.3, 103.8],
                                tickvals=[-50, 0, 50, 100], ticklabelstandoff=-4)
layout_axes["yaxis"] = ax_style(3, 10, 32, domain=ydom(210, 1333), anchor="x", range=[-38.65, 54.7],
                                tickvals=[-20, 0, 20, 40])
layout_axes["xaxis2"] = ax_style(3, 10, 32, domain=xdom(1123, 1931), anchor="y2", range=[-103.5, 108.2],
                                 tickvals=[-100, -50, 0, 50, 100], ticklabelstandoff=-4)
layout_axes["yaxis2"] = ax_style(3, 10, 32, domain=ydom(210, 1333), anchor="x2", range=[-52.45, 43.1],
                                 tickvals=[-50, -25, 0, 25])
# Volcano
layout_axes["xaxis3"] = ax_style(3.5, 7, 24, domain=xdom(270, 997), anchor="y3", range=[-10, 10], tickvals=[-5, 0, 5],
                                 ticklabelstandoff=-7)
layout_axes["yaxis3"] = ax_style(3.5, 7, 24, domain=ydom(1569, 2251), anchor="x3", range=[-1.0, 20.8],
                                 tickvals=[0, 5, 10, 15, 20])
layout_axes["xaxis4"] = ax_style(3.5, 7, 24, domain=xdom(274, 994), anchor="y4", range=[-14.7, 14.7],
                                 tickvals=[-10, -5, 0, 5, 10], ticklabelstandoff=-7)
layout_axes["yaxis4"] = ax_style(3.5, 7, 24, domain=ydom(2428, 3106), anchor="x4", range=[-0.95, 19.7],
                                 tickvals=[0, 5, 10, 15])
layout_axes["xaxis5"] = ax_style(3.5, 7, 24, domain=xdom(270, 992), anchor="y5", range=[-8.1, 8.07],
                                 tickvals=[-8, -4, 0, 4, 8], ticklabelstandoff=-7)
layout_axes["yaxis5"] = ax_style(3.5, 7, 24, domain=ydom(3310, 3988), anchor="x5", range=[-1.01, 20.95],
                                 tickvals=[0, 5, 10, 15, 20])
# Bars
bar_x = [(6, [-1.5, 31.5], [0, 10, 20, 30], 1605, 2229, F1_TERMS),
         (7, [-1.25, 26.25], [0, 5, 10, 15, 20, 25], 2467, 3090, F2_TERMS),
         (8, [-1.4, 29.4], [0, 10, 20], 3326, 3951, F3_TERMS)]
for ai, xr, tv, top, bot, terms in bar_x:
    n = len(terms)
    layout_axes[f"xaxis{ai}"] = ax_style(4, 10, 38, domain=xdom(2381, 3404), anchor=f"y{ai}", range=xr, tickvals=tv,
                                         ticklabelstandoff=-8)
    layout_axes[f"yaxis{ai}"] = ax_style(4, 10, 38, domain=ydom(top, bot), anchor=f"x{ai}", range=[n - 0.4, -0.6],
                                         type="category", categoryorder="array", categoryarray=terms,
                                         ticklabelstandoff=6)
# overlay pixel axis for legend keys (transparent background)
layout_axes["xaxis9"] = dict(domain=[0, 1], anchor="y9", range=[0, W], visible=False, fixedrange=True)
layout_axes["yaxis9"] = dict(domain=[0, 1], anchor="x9", range=[H, 0], visible=False, fixedrange=True)

fig.update_layout(
    width=W, height=H, margin=dict(l=0, r=0, t=0, b=0),
    paper_bgcolor="white", plot_bgcolor="rgba(0,0,0,0)",
    font=dict(family=FONT, color="black"),
    showlegend=False, bargap=0.1,
    shapes=shapes, annotations=annotations,
    coloraxis=dict(
        colorscale=[[0.0, "#77B4C6"], [0.30, "#C9D7C8"], [0.522, "#F6F0D6"], [0.593, "#F8D8B5"],
                    [0.895, "#D65A35"], [1.0, "#C8311A"]],
        cmin=-PADJ_MAX, cmax=-PADJ_MIN,
        colorbar=dict(thickness=51, thicknessmode="pixels", len=257, lenmode="pixels",
                      x=X(3441), xanchor="left", y=Y(2700), yanchor="top", xpad=0, ypad=0,
                      tickvals=[-PADJ_MIN, -0.01], ticktext=["6e-11", "1e-02"], ticks="inside",
                      ticklen=10, tickcolor="white", tickwidth=2, outlinewidth=0,
                      tickfont=dict(size=35, color="black", family=FONT)),
    ),
    **layout_axes,
)

fig.write_html("out.html")
